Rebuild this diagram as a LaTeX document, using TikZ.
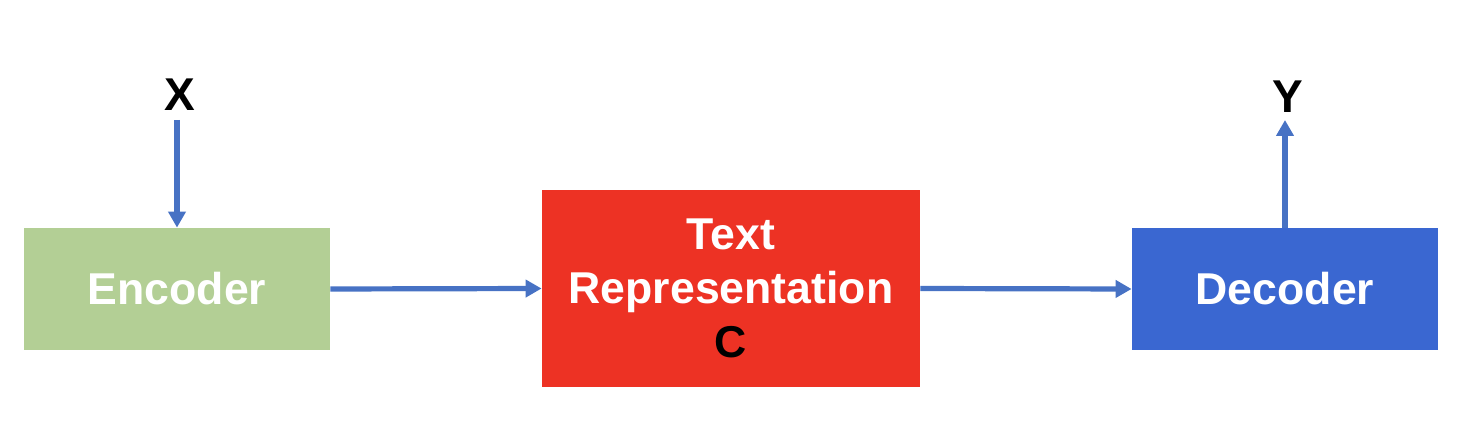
\documentclass[tikz,border=0pt]{standalone}
\usepackage{fontspec}
\setmainfont{Liberation Sans}
\usepackage{tikz}
\usetikzlibrary{shapes.geometric, arrows.meta, positioning}

\definecolor{encgreen}{RGB}{179,207,149}
\definecolor{repred}{RGB}{237,50,36}
\definecolor{decblue}{RGB}{58,103,209}
\definecolor{arrowblue}{RGB}{71,114,196}

\tikzset{
	block/.style = {rectangle, inner sep=0pt, align=center, text=white,
		font=\fontsize{22.3}{27}\selectfont\bfseries},
	flow/.style = {draw=arrowblue, line width=2.6pt,
		-{Triangle[width=8.5pt,length=8pt]}},
	io/.style = {font=\fontsize{23}{27}\selectfont\bfseries, inner sep=0pt}
}

\begin{document}
\begin{tikzpicture}[x=0.5pt,y=-0.5pt]
				\useasboundingbox (0,0) rectangle (1468,448);
				
				\node[block, fill=encgreen, minimum width=153pt, minimum height=61pt] (enc) at (177,289) {Encoder};
				\node[block, fill=repred, minimum width=189pt, minimum height=98.5pt] (rep) at (731,288.5) {Text\\Representation\\\textcolor{black}{C}};
				\node[block, fill=decblue, minimum width=153pt, minimum height=61pt] (dec) at (1285,289) {Decoder};
				
				\node[io] (x) at (180,95) {X};
				\node[io] (y) at (1288,97) {Y};
				\coordinate (xin) at (177,120);
				\coordinate (yout) at (1285,120);
				
				%%%%%%%%%%%%%%%%%%%%%%%%%%%%%%
				
				\draw[flow] (xin) -- (enc.north);
				\draw[flow] (enc.east) -- (rep.west);
				\draw[flow] (rep.east) -- (dec.west);
				\draw[flow] (dec.north) -- (yout);
				
\end{tikzpicture}
\end{document}
